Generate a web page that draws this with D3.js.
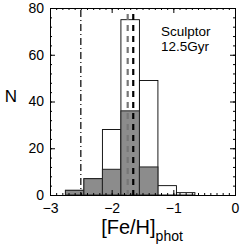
<!DOCTYPE html>
<html>
<head>
<meta charset="utf-8">
<script src="https://cdn.jsdelivr.net/npm/d3@7"></script>
<style>
  body { margin: 0; background: #fff; }
  text { font-family: "Liberation Sans", Arial, sans-serif; fill: #000; }
</style>
</head>
<body>
<div id="chart"></div>
<script>
// bin edges of [Fe/H]_phot (width 0.3)
var binEdges = [-2.75, -2.45, -2.15, -1.85, -1.55, -1.25, -0.95, -0.65];
var allCounts = [2, 7, 28, 75, 49, 4, 1];     // open histogram
var subCounts = [2, 7, 11, 36, 12, 0, 0];     // grey histogram
var xTicks = [-3, -2, -1, 0];
var yTicks = [0, 20, 40, 60, 80];
var dashDotLine = -2.5;
var dashedLines = [-1.74, -1.65];
var labelLines = ["Sculptor", "12.5Gyr"];

var margin = {left: 50, right: 13, top: 8, bottom: 51};
var W = 248, H = 246;
var width = W - margin.left - margin.right;
var height = H - margin.top - margin.bottom;

var svg = d3.select("#chart").append("svg")
  .attr("width", W)
  .attr("height", H);

var g = svg.append("g")
  .attr("transform", "translate(" + margin.left + "," + margin.top + ")");

var x = d3.scaleLinear().domain([-3, 0]).range([0, width]);
var y = d3.scaleLinear().domain([0, 80]).range([height, 0]);

var bins = allCounts.map(function(c, i) {
  return {x0: binEdges[i], x1: binEdges[i + 1], all: c, sub: subCounts[i]};
});

// open bars
g.selectAll(".open").data(bins).enter().append("rect")
  .attr("class", "open")
  .attr("x", function(d) { return x(d.x0); })
  .attr("width", function(d) { return x(d.x1) - x(d.x0); })
  .attr("y", function(d) { return y(d.all); })
  .attr("height", function(d) { return height - y(d.all); })
  .attr("fill", "#fff")
  .attr("stroke", "#000")
  .attr("stroke-width", 0.9);

// grey bars
g.selectAll(".sub").data(bins.filter(function(d) { return d.sub > 0; })).enter().append("rect")
  .attr("class", "sub")
  .attr("x", function(d) { return x(d.x0); })
  .attr("width", function(d) { return x(d.x1) - x(d.x0); })
  .attr("y", function(d) { return y(d.sub); })
  .attr("height", function(d) { return height - y(d.sub); })
  .attr("fill", "#8c8c8c")
  .attr("stroke", "#222")
  .attr("stroke-width", 1);

// vertical lines
g.append("line")
  .attr("x1", x(dashDotLine)).attr("x2", x(dashDotLine))
  .attr("y1", 2).attr("y2", height)
  .attr("stroke", "#000").attr("stroke-width", 1.2)
  .attr("stroke-dasharray", "7,3,1,3");

g.selectAll(".dl").data(dashedLines).enter().append("line")
  .attr("class", "dl")
  .attr("x1", function(d) { return x(d); })
  .attr("x2", function(d) { return x(d); })
  .attr("y1", 6).attr("y2", height)
  .attr("stroke", function(d, i) { return i == 0 ? "#777" : "#000"; })
  .attr("stroke-width", 2.2)
  .attr("stroke-dasharray", "6,5");

// axes with inward ticks, mirrored
function styleAxis(sel) {
  sel.select(".domain").attr("stroke", "#000").attr("stroke-width", 1);
  sel.selectAll(".tick line").attr("stroke", "#000");
  sel.selectAll("text").attr("font-size", "14px")
    .attr("font-family", "Liberation Sans, Arial, sans-serif");
}

var xMinor = d3.range(-30, 1).map(function(v) { return v / 10; });
var yMinor = d3.range(0, 81, 4);

g.append("g").attr("transform", "translate(0," + height + ")")
  .call(d3.axisBottom(x).tickValues(xMinor).tickSize(-2).tickFormat(""))
  .call(styleAxis);
g.append("g").attr("transform", "translate(0," + height + ")")
  .call(d3.axisBottom(x).tickValues(xTicks).tickSize(-5).tickPadding(8)
    .tickFormat(function(d) { return d == 0 ? "0" : "\u2212" + Math.abs(d); }))
  .call(styleAxis);
g.append("g")
  .call(d3.axisTop(x).tickValues(xMinor).tickSize(-2).tickFormat(""))
  .call(styleAxis);
g.append("g")
  .call(d3.axisTop(x).tickValues(xTicks).tickSize(-5).tickFormat(""))
  .call(styleAxis);

g.append("g")
  .call(d3.axisLeft(y).tickValues(yMinor).tickSize(-2).tickFormat(""))
  .call(styleAxis);
g.append("g")
  .call(d3.axisLeft(y).tickValues(yTicks).tickSize(-5).tickPadding(6))
  .call(styleAxis);
g.append("g").attr("transform", "translate(" + width + ",0)")
  .call(d3.axisRight(y).tickValues(yMinor).tickSize(-2).tickFormat(""))
  .call(styleAxis);
g.append("g").attr("transform", "translate(" + width + ",0)")
  .call(d3.axisRight(y).tickValues(yTicks).tickSize(-5).tickFormat(""))
  .call(styleAxis);

// annotation
g.selectAll(".lab").data(labelLines).enter().append("text")
  .attr("class", "lab")
  .attr("x", 111)
  .attr("y", function(d, i) { return 28 + i * 14.5; })
  .attr("font-size", "13.5px")
  .text(function(d) { return d; });

// axis titles
svg.append("text")
  .attr("x", 11).attr("y", 102)
  .attr("text-anchor", "middle")
  .attr("font-size", "17px")
  .text("N");

var xt = svg.append("text")
  .attr("x", 142).attr("y", 234)
  .attr("text-anchor", "middle")
  .attr("font-size", "20px");
xt.append("tspan").text("[Fe/H]");
xt.append("tspan").attr("dy", 7).attr("font-size", "14px").text("phot");
</script>
</body>
</html>
